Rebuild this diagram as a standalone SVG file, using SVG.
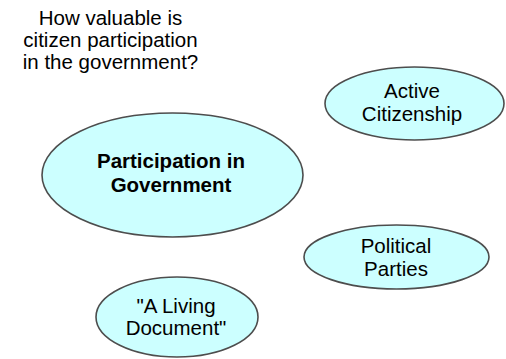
<svg xmlns="http://www.w3.org/2000/svg" width="506" height="359" viewBox="0 0 506 359">
<style>
.n{fill:#CCFFFF;stroke:#4D4D4D;stroke-width:1.6}
text{font-family:"Liberation Sans",Arial,sans-serif;font-size:20.5px;fill:#000;text-anchor:middle}
.b{font-weight:bold}
</style>
<rect width="506" height="359" fill="#fff"/>
<g id="title">
<text x="110.5" y="25">How valuable is</text>
<text x="110.5" y="47">citizen participation</text>
<text x="110.5" y="69">in the government?</text>
</g>
<g id="connectors"></g>
<g id="participation">
<ellipse class="n" cx="172.5" cy="175" rx="130.5" ry="62"/>
<text class="b" x="171" y="168">Participation in</text>
<text class="b" x="171" y="192">Government</text>
</g>
<g id="active">
<ellipse class="n" cx="414.5" cy="103.5" rx="89.5" ry="36.5"/>
<text x="412" y="98">Active</text>
<text x="412" y="121">Citizenship</text>
</g>
<g id="political">
<ellipse class="n" cx="396.5" cy="257" rx="92.5" ry="32"/>
<text x="396" y="253">Political</text>
<text x="396" y="276">Parties</text>
</g>
<g id="living">
<ellipse class="n" cx="177" cy="317" rx="81" ry="40"/>
<text x="176" y="313">"A Living</text>
<text x="176" y="335">Document"</text>
</g>
</svg>
